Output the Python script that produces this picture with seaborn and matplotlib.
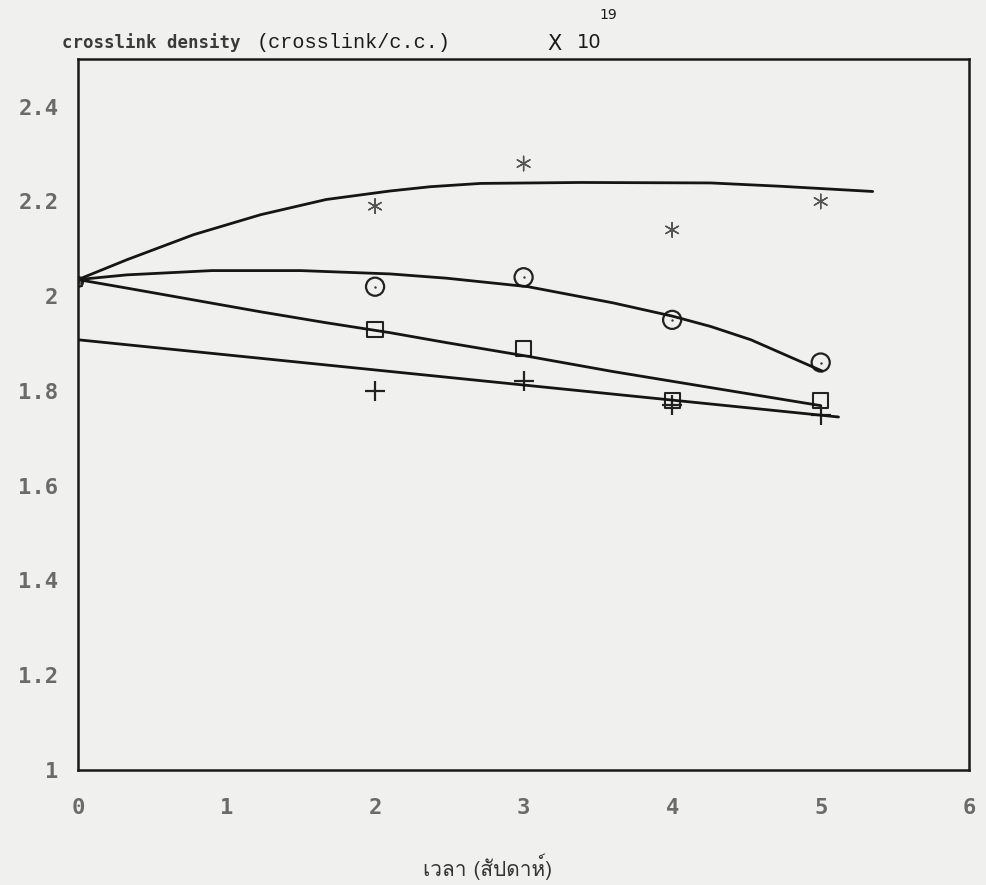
import numpy as np
import pandas as pd
import matplotlib
matplotlib.use("Agg")
import matplotlib.pyplot as plt
from matplotlib import font_manager
import seaborn as sns

# ---- measured crosslink density (x 10^19 crosslink/c.c.) vs. ageing time (weeks)
weeks = [0, 2, 3, 4, 5]
star_vals = [2.03, 2.19, 2.28, 2.14, 2.20]
circle_vals = [2.03, 2.02, 2.04, 1.95, 1.86]
square_vals = [2.03, 1.93, 1.89, 1.78, 1.78]
plus_weeks = [2, 3, 4, 5]
plus_vals = [1.80, 1.82, 1.77, 1.75]

# ---- hand-fitted trend curves through each set
star_fit_x = [0, 0.33, 0.78, 1.23, 1.67, 2.1, 2.37, 2.71, 3.38, 4.26, 4.73, 5.35]
star_fit_y = [2.035, 2.077, 2.13, 2.172, 2.204, 2.222, 2.231, 2.238, 2.240, 2.239, 2.232, 2.221]
circle_fit_x = [0, 0.33, 0.9, 1.5, 2.1, 2.48, 3.03, 3.6, 4.0, 4.26, 4.53, 5.01]
circle_fit_y = [2.035, 2.045, 2.054, 2.054, 2.047, 2.038, 2.020, 1.986, 1.958, 1.936, 1.908, 1.842]
square_fit_x = [0, 0.33, 0.78, 1.23, 1.67, 2.1, 2.48, 3.03, 3.6, 4.26, 5.0]
square_fit_y = [2.035, 2.017, 1.992, 1.967, 1.944, 1.923, 1.902, 1.873, 1.841, 1.807, 1.769]
plus_fit_x = [0, 5.12]
plus_fit_y = [1.908, 1.745]

x_ticks = [0, 1, 2, 3, 4, 5, 6]
y_ticks = [1.0, 1.2, 1.4, 1.6, 1.8, 2.0, 2.2, 2.4]
y_tick_labels = ["1", "1.2", "1.4", "1.6", "1.8", "2", "2.2", "2.4"]

x_label = "เวลา (สัปดาห์)"


def family_with(ch, default="DejaVu Sans"):
    """Return an installed font family that has a glyph for ch."""
    try:
        from fontTools.ttLib import TTFont
    except Exception:
        return default
    seen = set()
    for fe in font_manager.fontManager.ttflist:
        if fe.fname in seen:
            continue
        seen.add(fe.fname)
        try:
            f = TTFont(fe.fname, fontNumber=0, lazy=True)
            cmap = f.getBestCmap()
            if cmap and ord(ch) in cmap:
                return fe.name
        except Exception:
            continue
    return default


thai_family = family_with("ส")

sns.set_style("white")
plt.rcParams["font.family"] = ["DejaVu Sans"]

paper = "#f0f0ee"
fig = plt.figure(figsize=(9.87, 8.85), dpi=100, facecolor=paper)
ax = fig.add_axes([0.079, 0.130, 0.903, 0.803])
ax.set_facecolor(paper)

# trend curves
for fx, fy in [(star_fit_x, star_fit_y), (circle_fit_x, circle_fit_y),
               (square_fit_x, square_fit_y), (plus_fit_x, plus_fit_y)]:
    sns.lineplot(x=fx, y=fy, ax=ax, color="#151515", linewidth=2.0,
                 sort=False, estimator=None)

# data points (the week-0 points overlap, drawn small)
pts = pd.DataFrame({"week": weeks, "star": star_vals,
                    "circle": circle_vals, "square": square_vals})
size = np.where(pts["week"] == 0, 0.3, 1.0)

sns.scatterplot(data=pts, x="week", y="star", ax=ax, marker=(6, 2, 0),
                s=110 * size, color="#555555", linewidth=1.0)
sns.scatterplot(data=pts, x="week", y="circle", ax=ax, marker="o",
                s=170 * size, facecolor="none", edgecolor="#222222", linewidth=1.6)
sns.scatterplot(data=pts[pts["week"] > 0], x="week", y="circle", ax=ax, marker=".",
                s=12, color="#333333", linewidth=0)
sns.scatterplot(data=pts, x="week", y="square", ax=ax, marker="s",
                s=120 * size, facecolor="none", edgecolor="#222222", linewidth=1.5)
sns.scatterplot(x=plus_weeks, y=plus_vals, ax=ax, marker="+",
                s=190, color="#222222", linewidth=1.6)

ax.set_xlim(0, 6)
ax.set_ylim(1.0, 2.5)
ax.set_xticks(x_ticks)
ax.set_xticklabels([str(t) for t in x_ticks])
ax.set_yticks(y_ticks)
ax.set_yticklabels(y_tick_labels)
ax.set_xlabel("")
ax.set_ylabel("")

for side in ["left", "right", "top", "bottom"]:
    ax.spines[side].set_visible(True)
    ax.spines[side].set_color("#1a1a1a")
    ax.spines[side].set_linewidth(1.8)

ax.tick_params(axis="x", direction="in", length=8, width=1.0, color="#333333",
               pad=20, labelsize=16, labelcolor="#6a6a6a")
ax.tick_params(axis="y", direction="in", length=5, width=0.8, color="#999999",
               pad=14, labelsize=16, labelcolor="#6a6a6a")
for lab in ax.get_xticklabels() + ax.get_yticklabels():
    lab.set_fontfamily("DejaVu Sans Mono")
    lab.set_fontweight("bold")

# axis titles
fig.text(0.063, 0.952, "crosslink density", fontsize=12.5, fontweight="bold",
         family="DejaVu Sans Mono", color="#3a3a3a", ha="left", va="center")
fig.text(0.260, 0.952, "(crosslink/c.c.)", fontsize=14.5,
         family="Liberation Mono", color="#1a1a1a", ha="left", va="center")
fig.text(0.555, 0.950, "X", fontsize=15, family="DejaVu Sans",
         color="#1a1a1a", ha="left", va="center")
fig.text(0.584, 0.952, "10", fontsize=14, family="DejaVu Sans",
         color="#1a1a1a", ha="left", va="center")
fig.text(0.607, 0.983, "19", fontsize=10, family="DejaVu Sans",
         color="#1a1a1a", ha="left", va="center")

fig.text(0.494, 0.021, x_label, fontsize=15, family=[thai_family, "DejaVu Sans"],
         color="#333333", ha="center", va="center")

fig.savefig("out.png", dpi=100, facecolor=paper)
